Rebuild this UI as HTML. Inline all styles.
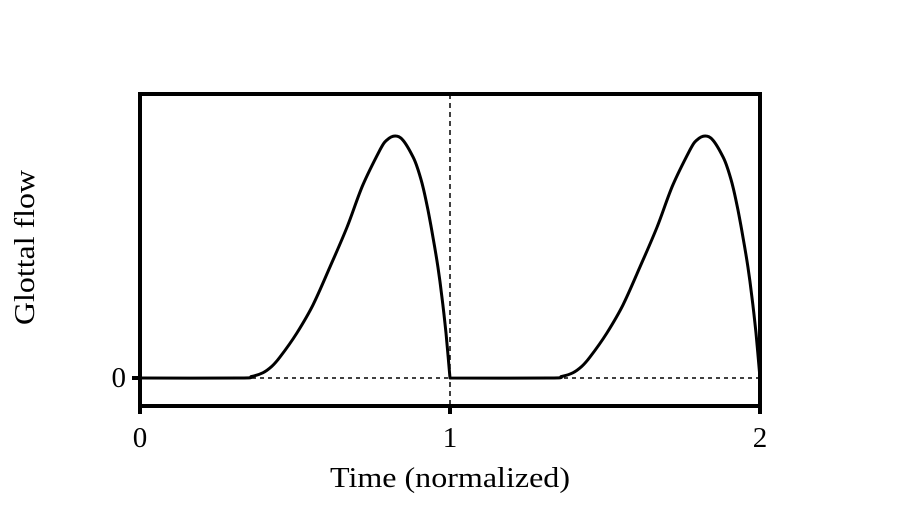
<!DOCTYPE html>
<html><head><meta charset="utf-8"><style>
body{margin:0;background:#fff}
svg text{font-family:"Liberation Serif",serif;font-size:29px;fill:#000}
</style></head><body>
<svg id="c" width="900" height="500">
<g id="plot"></g>
</svg>
<script>
const tVals=[0,0.323,0.36,0.397,0.425,0.452,0.506,0.558,0.613,0.668,0.719,0.774,0.796,0.823,0.848,0.881,0.897,0.913,0.929,0.945,0.961,0.974,0.987,1.0];
const flowVals=[0,0,0.006,0.022,0.048,0.087,0.186,0.302,0.459,0.624,0.798,0.942,0.983,1.0,0.983,0.913,0.86,0.789,0.694,0.583,0.459,0.335,0.186,0];
const periods=[0,1];
const xTicks=[0,1,2];
const xTickLabels=["0","1","2"];
const yTicks=[0];
const yTickLabels=["0"];
const X0=140,X1=760,Y0=378,Y1=136;
const xs=t=>X0+(X1-X0)*t/2;
const ys=v=>Y0-(Y0-Y1)*v;
const NS="http://www.w3.org/2000/svg";
const g=document.getElementById('plot');
function mk(tag,attrs){const e=document.createElementNS(NS,tag);for(const k in attrs)e.setAttribute(k,attrs[k]);g.appendChild(e);return e;}
let e;
e=mk('line',{x1:X0,x2:X1,y1:ys(0),y2:ys(0),stroke:'#000','stroke-width':1.5,'stroke-dasharray':'4,4'});


e=mk('line',{x1:xs(1),x2:xs(1),y1:94,y2:406,stroke:'#000','stroke-width':1.5,'stroke-dasharray':'5,4'});


let d='';
periods.forEach((p,pi)=>{
 const pts=tVals.map((t,i)=>[xs(p+t),ys(flowVals[i])]);
 d+=(pi===0?'M':'L')+pts[0][0].toFixed(1)+','+pts[0][1].toFixed(1);
 for(let i=0;i<pts.length-1;i++){
  const p0=pts[Math.max(0,i-1)],p1=pts[i],p2=pts[i+1],p3=pts[Math.min(pts.length-1,i+2)];
  const c1=[p1[0]+(p2[0]-p0[0])/6,p1[1]+(p2[1]-p0[1])/6];
  const c2=[p2[0]-(p3[0]-p1[0])/6,p2[1]-(p3[1]-p1[1])/6];
  d+='C'+c1.map(v=>v.toFixed(1)).join(',')+' '+c2.map(v=>v.toFixed(1)).join(',')+' '+p2[0].toFixed(1)+','+p2[1].toFixed(1);
 }
});
e=mk('path',{d:d,fill:'none',stroke:'#000','stroke-width':3,'stroke-linejoin':'round'});


e=mk('rect',{x:140,y:94,width:620,height:312,fill:'none',stroke:'#000','stroke-width':4});


xTicks.forEach((v,i)=>{
 e=mk('line',{x1:xs(v),x2:xs(v),y1:406,y2:414,stroke:'#000','stroke-width':4});
 
 
 e=mk('text',{x:xs(v),y:447,'text-anchor':'middle'});e.textContent=xTickLabels[i];
 
 
});
yTicks.forEach((v,i)=>{
 e=mk('line',{x1:132,x2:140,y1:ys(v),y2:ys(v),stroke:'#000','stroke-width':4});
 
 
 e=mk('text',{x:126,y:ys(v)+9,'text-anchor':'end'});e.textContent=yTickLabels[i];
 
 
});
e=mk('text',{x:330,y:487,'font-size':36,textLength:240,lengthAdjust:'spacingAndGlyphs'});e.textContent='Time (normalized)';


e=mk('text',{x:0,y:0,'font-size':36,textLength:155,lengthAdjust:'spacingAndGlyphs',transform:'translate(34,325) rotate(-90)'});e.textContent='Glottal flow';


</script>
</body></html>
